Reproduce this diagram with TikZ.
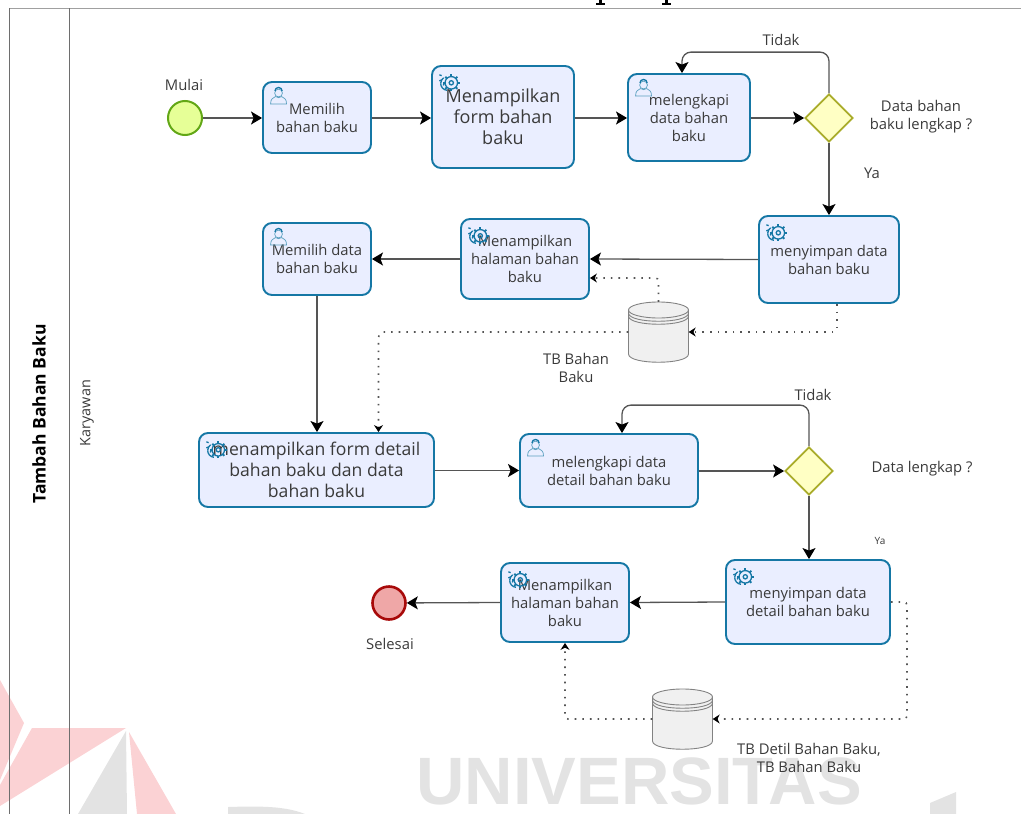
\documentclass[tikz,border=0pt]{standalone}
\usepackage{fontspec}
\setmainfont{Open Sans}
\usetikzlibrary{shapes,arrows.meta,positioning}
\definecolor{taskblue}{HTML}{1577A5}
\definecolor{taskfill}{HTML}{EAEEFF}
\definecolor{txtgrey}{HTML}{3A3A3A}
\definecolor{markred}{HTML}{FBD2D4}
\definecolor{markgrey}{HTML}{E3E3E3}
\definecolor{startline}{HTML}{62A716}
\definecolor{startfill}{HTML}{E6FF97}
\definecolor{endline}{HTML}{A80A0A}
\definecolor{endfill}{HTML}{EFA7A7}
\definecolor{gateline}{HTML}{A9AC2A}
\definecolor{gatefill}{HTML}{FFFFC4}
\definecolor{dbline}{HTML}{828282}
\definecolor{dbfill}{HTML}{F0F0F0}
\definecolor{flowgrey}{HTML}{555555}
\definecolor{lanegrey}{HTML}{6E6E6E}
\definecolor{topgrey}{HTML}{A0A0A0}
\tikzset{
    taskbox/.style={draw=taskblue, fill=taskfill, line width=1.9pt, rounded corners=9pt, align=center, inner sep=0pt, text=txtgrey, font=\fontsize{14.8}{18}\selectfont},
    startev/.style={circle, draw=startline, fill=startfill, line width=2pt, minimum size=34pt, inner sep=0pt},
    endev/.style={circle, draw=endline, fill=endfill, line width=2.6pt, minimum size=33pt, inner sep=0pt},
    gateway/.style={diamond, aspect=1, draw=gateline, fill=gatefill, line width=1.8pt, minimum size=48pt, inner sep=0pt},
    dbstore/.style={rectangle, minimum width=60pt, minimum height=44pt, inner sep=0pt},
    txtlabel/.style={align=center, inner sep=0pt, text=txtgrey, font=\fontsize{14.8}{18}\selectfont},
    flowline/.style={draw=flowgrey, line width=1.3pt, -{Stealth[length=11pt,width=13pt,inset=2.5pt,color=black]}},
    dataline/.style={draw=flowgrey, line width=1.6pt, dash pattern=on 1.6pt off 6pt, -{Stealth[length=7pt,width=9pt,color=black]}},
    laneline/.style={draw=lanegrey, line width=.8pt},
    gearicon/.pic={
        \begin{scope}[draw=taskblue, line width=1.3pt]
            \draw (-7.5,1.5) arc[start angle=180, end angle=95, radius=5.5];
            \draw (-7.5,1.5) arc[start angle=180, end angle=235, radius=5.5];
            \foreach \a in {120,160,200} \draw (-2,-3) ++(\a:5) -- ++(\a:2);
            \draw (1,1) circle (5);
            \draw (1,1) circle (1.7);
            \foreach \a in {0,45,...,315} \draw[line width=1.8pt] (1,1) ++(\a:4.8) -- ++(\a:2);
        \end{scope}
    },
    usericon/.pic={
        \begin{scope}[draw=taskblue!70, line width=.7pt]
            \draw (0,-4) circle (3.9);
            \draw[line width=1.3pt, taskblue] (-3.6,-6) arc[start angle=180, end angle=360, radius=3.6];
            \draw (-8,7) .. controls (-8,1) and (-5,1) .. (-3,-.5) .. controls (-1,1) and (1,1) .. (3,-.5) .. controls (5,1) and (8,1) .. (8,7) -- cycle;
        \end{scope}
    },
    dbicon/.pic={
        \begin{scope}[draw=dbline, line width=.9pt]
            \draw[fill=dbfill] (-30,-22) -- (-30,22) .. controls (-30,33) and (30,33) .. (30,22) -- (30,-22);
            \draw[fill=dbfill] (0,-22) circle[x radius=30, y radius=8];
            \draw (-30,-19) .. controls (-30,-8) and (30,-8) .. (30,-19);
            \draw (-30,-16) .. controls (-30,-5) and (30,-5) .. (30,-16);
        \end{scope}
    }
}

\begin{document}
\begin{tikzpicture}[x=1pt, y=-1pt]
    \useasboundingbox (0,0) rectangle (1021,814);
    \clip (0,0) rectangle (1021,814);

    \fill[markred] (0,680) -- (24,723) -- (0,780) -- cycle;
    \fill[markred] (32,728) -- (126,728) -- (0,806) -- (0,785) -- cycle;
    \fill[markgrey] (126,731) -- (127,814) -- (78,814) -- cycle;
    \fill[markred] (129,732) -- (176,814) -- (137,814) -- cycle;
    \fill[markgrey] (228,807) .. controls (260,806) and (285,806) .. (305,814) -- (228,814) -- cycle;
    \fill[markgrey] (930,803) -- (956,792) -- (956,814) -- (930,814) -- cycle;
    \node[inner sep=0pt, text=markgrey, font={\fontspec{Liberation Sans}\bfseries\fontsize{67}{67}\selectfont}] (univ) at (639,781) {UNIVERSITAS};

    \fill[black] (599,0) rectangle (601.5,4);
    \fill[black] (596,3.4) rectangle (604.5,4.6);
    \fill[black] (665,0) rectangle (667.5,4);
    \fill[black] (662,3.4) rectangle (670.5,4.6);

    \draw[draw=topgrey, line width=1.6pt] (9,8.5) -- (1021,8.5);
    \draw[laneline] (9,8) -- (9,814);
    \draw[laneline] (69.5,8) -- (69.5,814);
    \node[rotate=90, inner sep=0pt, font=\bfseries\fontsize{17.5}{20}\selectfont] (pool) at (39,414) {Tambah Bahan Baku};
    \node[rotate=90, txtlabel, font=\fontsize{14.4}{16}\selectfont] (lane) at (87,413) {Karyawan};

    \node[startev] (start) at (185,118) {};
    \node[taskbox, minimum width=108pt, minimum height=71pt] (t1) at (317,117.5) {Memilih\\bahan baku};
    \node[taskbox, font=\fontsize{18}{21}\selectfont, minimum width=142pt, minimum height=102pt] (t2) at (503,117) {Menampilkan\\form bahan\\baku};
    \node[taskbox, minimum width=122pt, minimum height=87pt] (t3) at (689,117.5) {melengkapi\\data bahan\\baku};
    \node[gateway] (gw1) at (829,118) {};
    \node[taskbox, minimum width=140pt, minimum height=87pt] (t4) at (829,259.5) {menyimpan data\\bahan baku};
    \node[taskbox, minimum width=128pt, minimum height=80pt] (t5) at (525,259) {Menampilkan\\halaman bahan\\baku};
    \node[taskbox, minimum width=108pt, minimum height=72pt] (t6) at (317,259) {Memilih data\\bahan baku};
    \node[dbstore] (db1) at (658.5,332) {};
    \pic at (db1.center) {dbicon};
    \node[taskbox, font=\fontsize{17.6}{21}\selectfont, minimum width=235pt, minimum height=74pt] (t7) at (316.5,470) {menampilkan form detail\\bahan baku dan data\\bahan baku};
    \node[taskbox, minimum width=178pt, minimum height=73pt] (t8) at (609,470.5) {melengkapi data\\detail bahan baku};
    \node[gateway] (gw2) at (809,471) {};
    \node[taskbox, minimum width=164pt, minimum height=84pt] (t9) at (808,602) {menyimpan data\\detail bahan baku};
    \node[taskbox, minimum width=128pt, minimum height=79pt] (t10) at (565,602.5) {Menampilkan\\halaman bahan\\baku};
    \node[endev] (stop) at (389,603) {};
    \node[dbstore] (db2) at (682.5,719) {};
    \pic at (db2.center) {dbicon};

    \foreach \n in {t2,t4,t5,t7,t9,t10} \pic[scale=1.25] at ([shift={(19,16.5)}]\n.north west) {gearicon};
    \foreach \n in {t1,t3,t6,t8} \pic at ([shift={(16.5,16)}]\n.north west) {usericon};

    \node[txtlabel] (lbl1) at (184,85) {Mulai};
    \node[txtlabel] (lbl2) at (781,40) {Tidak};
    \node[txtlabel] (lbl3) at (921,117) {Data bahan\\baku lengkap ?};
    \node[txtlabel] (lbl4) at (872,173) {Ya};
    \node[txtlabel] (lbl5) at (576,368) {TB Bahan\\Baku};
    \node[txtlabel] (lbl6) at (813,395) {Tidak};
    \node[txtlabel] (lbl7) at (922,469) {Data lengkap ?};
    \node[txtlabel, font=\fontsize{10}{12}\selectfont] (lbl8) at (880,541) {Ya};
    \node[txtlabel] (lbl9) at (390,644) {Selesai};
    \node[txtlabel] (lbl10) at (809,758) {TB Detil Bahan Baku,\\TB Bahan Baku};

    \draw[flowline] (start) -- (t1.west |- start);
    \draw[flowline] (t1.east |- start) -- (t2.west |- start);
    \draw[flowline] (t2.east |- start) -- (t3.west |- start);
    \draw[flowline] (t3.east |- gw1) -- (gw1);
    \draw[flowline, rounded corners=9pt] (gw1.north) -- ++(0,-41) -| ([xshift=-7pt]t3.north);
    \draw[flowline] (gw1.south) -- (t4.north);
    \draw[flowline] (t4.west) -- (t5.east);
    \draw[flowline] (t5.west) -- (t6.east);
    \draw[flowline] (t6.south) -- (t6.south |- t7.north);
    \draw[flowline] (t7.east |- t8) -- (t8.west);
    \draw[flowline] (t8.east |- gw2) -- (gw2);
    \draw[flowline, rounded corners=9pt] (gw2.north) -- ++(0,-41) -| ([xshift=13pt]t8.north);
    \draw[flowline] (gw2.south) -- (gw2.south |- t9.north);
    \draw[flowline] (t9.west) -- (t10.east);
    \draw[flowline] (t10.west) -- (stop);

    \draw[dataline, rounded corners=3pt] ([xshift=8pt]t4.south) |- (db1.east);
    \draw[dataline, rounded corners=3pt] ([yshift=8pt]db1.north) |- ([yshift=-19pt]t5.east);
    \draw[dataline, rounded corners=5pt] (db1.west) -| ([xshift=62pt]t7.north);
    \draw[dataline, rounded corners=3pt] (t9.east) -- ++(16,0) |- (db2.east);
    \draw[dataline, rounded corners=3pt] (db2.west) -| (t10.south);
\end{tikzpicture}
\end{document}
